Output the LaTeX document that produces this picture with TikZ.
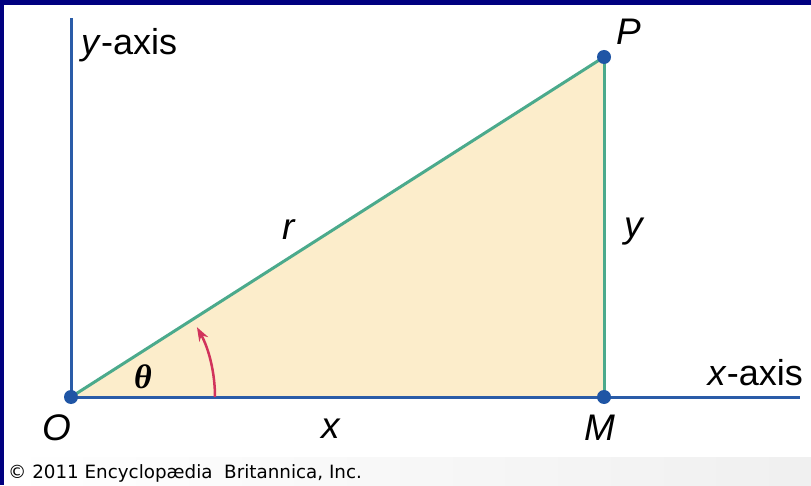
\documentclass[tikz,border=0pt]{standalone}
\usepackage{fontspec}
\setmainfont{Liberation Sans}
\newfontfamily\copyfont{DejaVu Sans}
\newfontfamily\greekfont{Liberation Serif}
\usetikzlibrary{calc, arrows.meta}

\definecolor{frameblue}{HTML}{000080}
\definecolor{axisblue}{HTML}{2A5CA8}
\definecolor{dotblue}{HTML}{1F55A5}
\definecolor{sidegreen}{HTML}{4BAA8C}
\definecolor{wedgefill}{HTML}{FCEDCB}
\definecolor{anglered}{HTML}{D1335C}

\begin{document}
\begin{tikzpicture}[x=1pt, y=1pt,
  axisline/.style={draw=axisblue, line width=3pt},
  sideline/.style={draw=sidegreen, line width=3pt},
  angleline/.style={draw=anglered, line width=2.5pt, -{Stealth[length=14pt, width=10pt]}},
  axislabel/.style={font=\fontsize{36}{40}\selectfont, inner sep=0pt},
  ptlabel/.style={font=\fontsize{37}{42}\selectfont\itshape, inner sep=0pt},
]
  \useasboundingbox (0,0) rectangle (811,485);
  \fill[frameblue] (0,0) rectangle (811,485);
  \fill[white] (4,0) rectangle (811,480);
  \shade[left color=white, right color=black!6] (4,0) rectangle (811,28);
  \coordinate (O) at (71,88);
  \coordinate (M) at (604,88);
  \coordinate (P) at (604,428);
  \coordinate (Ytop) at (71,467);
  \coordinate (Xend) at (800,88);
  \fill[wedgefill] (O) -- (M) -- (P) -- cycle;
  \draw[axisline] (O) -- (Ytop);
  \draw[axisline] (O) -- (Xend);
  \draw[sideline] (O) -- (P);
  \draw[sideline] (M) -- (P);
  \draw[angleline] ($(O)+(144,0)$) arc[start angle=0, end angle=29, radius=144];
  \foreach \pt in {O,M,P} \fill[dotblue] (\pt) circle (7);
  \node[axislabel, anchor=base west] (ylab) at (81,430) {\textit{y}-axis};
  \node[axislabel, anchor=base east] (xlab) at (803,100) {\textit{x}-axis};
  \node[ptlabel, anchor=base west] (Plab) at (616,440) {P};
  \node[ptlabel, anchor=base west] (Olab) at (42,45) {O};
  \node[ptlabel, anchor=base west] (Mlab) at (584,45) {M};
  \node[ptlabel, anchor=base west] (rlab) at (282,245) {r};
  \node[ptlabel, anchor=base west] (ylen) at (624,247) {y};
  \node[ptlabel, anchor=base west] (xlen) at (321,47) {x};
  \node[inner sep=0pt, font=\greekfont\bfseries\itshape\fontsize{34}{38}\selectfont] (thlab) at (143,108) {θ};
  \node[inner sep=0pt, anchor=base west, font=\copyfont\fontsize{18.3}{22}\selectfont] (copy) at (8,7) {© 2011 Encyclopædia\ \ Britannica, Inc.};
\end{tikzpicture}
\end{document}
